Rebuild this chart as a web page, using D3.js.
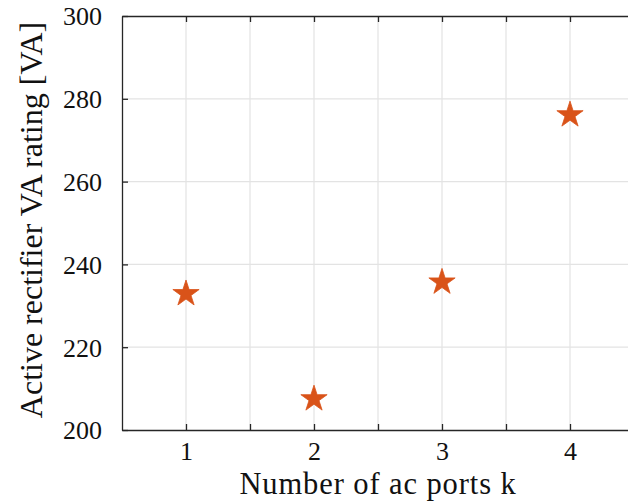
<!DOCTYPE html>
<html>
<head>
<meta charset="utf-8">
<script src="https://cdn.jsdelivr.net/npm/d3@7"></script>
<style>
  html, body { margin: 0; padding: 0; background: #fff; }
  svg { display: block; }
  text { font-family: "Liberation Serif", "DejaVu Serif", serif; fill: #111; }
</style>
</head>
<body>
<div id="chart"></div>
<script>
// Number of ac ports and the active-rectifier VA rating for each
const ports = [1, 2, 3, 4];
const vaRating = [232.9, 207.5, 235.7, 276.1];
const xTickValues = [1, 1.5, 2, 2.5, 3, 3.5, 4];
const xTickLabels = ["1", "", "2", "", "3", "", "4"];
const yTickValues = [200, 220, 240, 260, 280, 300];
const xTitle = "Number of ac ports k";
const yTitle = "Active rectifier VA rating [VA]";

const W = 628, H = 501;
const plotLeft = 122, plotTop = 16, plotRight = 634, plotBottom = 430;

const svg = d3.select("#chart").append("svg")
  .attr("width", W).attr("height", H);

const x = d3.scaleLinear().domain([0.5, 4.5]).range([plotLeft, plotRight]);
const y = d3.scaleLinear().domain([200, 300]).range([plotBottom, plotTop]);

// grid
const grid = svg.append("g").attr("stroke", "#e3e3e3").attr("stroke-width", 1.2);
grid.selectAll("line.vx").data(xTickValues).join("line")
  .attr("x1", d => x(d)).attr("x2", d => x(d))
  .attr("y1", plotTop).attr("y2", plotBottom);
grid.selectAll("line.hy").data(yTickValues.slice(1, -1)).join("line")
  .attr("x1", plotLeft).attr("x2", plotRight)
  .attr("y1", d => y(d)).attr("y2", d => y(d));

// axes with inward ticks
const axisColor = "#262626";
const tickLen = 6;
const fmt = (d) => xTickLabels[xTickValues.indexOf(d)];

const gx = svg.append("g").attr("transform", `translate(0,${plotBottom})`)
  .call(d3.axisBottom(x).tickValues(xTickValues).tickFormat(fmt)
    .tickSizeInner(-tickLen).tickSizeOuter(0).tickPadding(12));
const gxTop = svg.append("g").attr("transform", `translate(0,${plotTop})`)
  .call(d3.axisTop(x).tickValues(xTickValues).tickFormat("")
    .tickSizeInner(-tickLen).tickSizeOuter(0));
const gy = svg.append("g").attr("transform", `translate(${plotLeft},0)`)
  .call(d3.axisLeft(y).tickValues(yTickValues).tickFormat(d3.format("d"))
    .tickSizeInner(-tickLen).tickSizeOuter(0).tickPadding(20));
const gyRight = svg.append("g").attr("transform", `translate(${plotRight},0)`)
  .call(d3.axisRight(y).tickValues(yTickValues).tickFormat("")
    .tickSizeInner(-tickLen).tickSizeOuter(0));

[gx, gxTop, gy, gyRight].forEach(g => {
  g.select(".domain").attr("stroke", axisColor).attr("stroke-width", 1.3);
  g.selectAll(".tick line").attr("stroke", axisColor).attr("stroke-width", 1.3);
  g.selectAll("text").attr("fill", "#111")
    .style("font-family", '"Liberation Serif", "DejaVu Serif", serif')
    .style("font-size", "26px");
});
gy.selectAll("text").attr("dy", "0.34em");
gx.selectAll("text").attr("dy", "0.71em");

// axis titles
svg.append("text")
  .attr("x", (plotLeft + plotRight) / 2).attr("y", 494)
  .attr("text-anchor", "middle")
  .style("font-size", "30.5px")
  .style("letter-spacing", "0.9px")
  .text(xTitle);
svg.append("text")
  .attr("transform", `translate(42,220) rotate(-90)`)
  .attr("text-anchor", "middle")
  .style("font-size", "32px")
  .text(yTitle);

// pentagram markers
const star = d3.symbol().type(d3.symbolStar).size(214);
svg.append("g").selectAll("path").data(ports).join("path")
  .attr("transform", (d, i) => `translate(${x(d)},${y(vaRating[i])})`)
  .attr("d", star)
  .attr("fill", "#D95319")
  .attr("stroke", "#D95319")
  .attr("stroke-width", 0.8);
</script>
</body>
</html>
